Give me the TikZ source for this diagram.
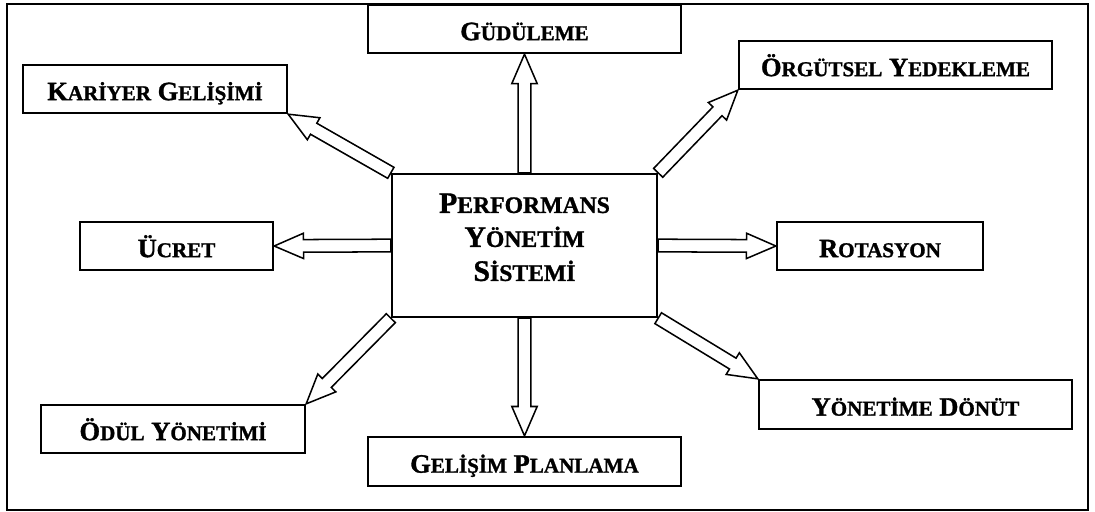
\documentclass[tikz,border=0pt]{standalone}
\usepackage{fontspec}
\setmainfont{Liberation Serif}[BoldFeatures={FakeBold=1.2}]
\usetikzlibrary{calc}

% small caps made by hand: first letter big, rest small
\newcommand{\ksc}[2]{{\fontsize{11.3}{13}\selectfont #1}{\fontsize{9}{13}\selectfont #2}}
\newcommand{\bsc}[2]{{\fontsize{12.7}{14.5}\selectfont #1}{\fontsize{10.1}{14.5}\selectfont #2}}

\newcommand{\shaftw}{0.095cm}
\newcommand{\headw}{0.19cm}
\newcommand{\headl}{0.44cm}
% hollow block arrow from #1 to #2
\newcommand{\hollowarrow}[2]{%
  \coordinate (ha) at (#1);
  \coordinate (hb) at (#2);
  \coordinate (hc) at ($(hb)!\headl!(ha)$);
  \draw[arrowline] ($(ha)!\shaftw!90:(hb)$) -- ($(hc)!\shaftw!90:(hb)$)
    -- ($(hc)!\headw!90:(hb)$) -- (hb) -- ($(hc)!\headw!-90:(hb)$)
    -- ($(hc)!\shaftw!-90:(hb)$) -- ($(ha)!\shaftw!-90:(hb)$) -- cycle;
}

\tikzset{
  box/.style={draw, line width=1pt, inner sep=0pt, minimum height=0.72cm,
    font=\fontsize{11.3}{13}\bfseries, text height=9.5pt, text depth=0pt},
  mainbox/.style={draw, line width=1pt, inner sep=0pt, align=center,
    minimum width=3.975cm, minimum height=2.145cm, font=\fontsize{12.7}{14.5}\bfseries},
  arrowline/.style={draw, fill=white, line width=0.65pt, line join=miter},
  frame/.style={draw, line width=0.6pt}
}

\begin{document}
\begin{tikzpicture}[x=0.015cm, y=-0.015cm]
  \useasboundingbox (0,0) rectangle (1095,511);
  \draw[frame] (7,4) rectangle (1088,510);

  % center
  \node[mainbox] (pys) at (524.5,245.5)
    {\raisebox{2.3pt}[\height][\depth]{\begin{tabular}{@{}c@{}}\bsc{P}{ERFORMANS}\\ \bsc{Y}{ÖNETİM}\\ \bsc{S}{İSTEMİ}\end{tabular}}};

  % outer boxes
  \node[box, minimum width=4.695cm] (gud) at (524.5,29) {\ksc{G}{ÜDÜLEME}};
  \node[box, minimum width=3.96cm] (kar) at (155,89) {\ksc{K}{ARİYER} \ksc{G}{ELİŞİMİ}};
  \node[box, minimum width=4.695cm] (org) at (895.5,65) {\ksc{Ö}{RGÜTSEL} \ksc{Y}{EDEKLEME}};
  \node[box, minimum width=2.895cm] (ucr) at (176.5,246) {\ksc{Ü}{CRET}};
  \node[box, minimum width=3.09cm] (rot) at (880,246) {\ksc{R}{OTASYON}};
  \node[box, minimum width=3.96cm] (odl) at (173,429) {\ksc{Ö}{DÜL} \ksc{Y}{ÖNETİMİ}};
  \node[box, minimum width=4.695cm, minimum height=0.735cm] (gel) at (524.5,461.5) {\ksc{G}{ELİŞİM} \ksc{P}{LANLAMA}};
  \node[box, minimum width=4.695cm, minimum height=0.735cm] (yon) at (915.5,404.5) {\ksc{Y}{ÖNETİME} \ksc{D}{ÖNÜT}};

  % arrows
  \hollowarrow{pys.north}{gud.south}
  \hollowarrow{pys.north west}{kar.south east}
  \hollowarrow{pys.north east}{org.south west}
  \hollowarrow{pys.west}{ucr.east}
  \hollowarrow{pys.east}{rot.west}
  \hollowarrow{pys.south west}{odl.north east}
  \hollowarrow{pys.south}{gel.north}
  \hollowarrow{pys.south east}{yon.north west}
\end{tikzpicture}
\end{document}
